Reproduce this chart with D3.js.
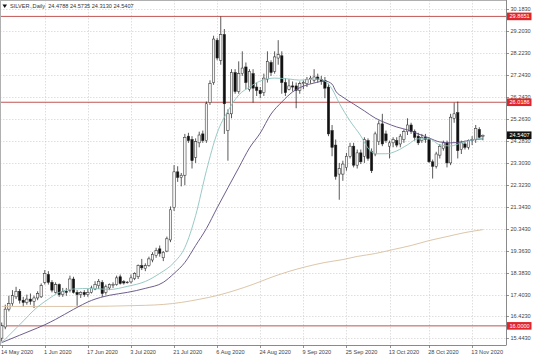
<!DOCTYPE html>
<html>
<head>
<meta charset="utf-8">
<script src="https://cdn.jsdelivr.net/npm/d3@7"></script>
<style>
  html, body { margin: 0; padding: 0; background: #fff; }
  svg { display: block; }
  text { font-family: "Liberation Sans", Arial, sans-serif; }
</style>
</head>
<body>
<div id="chart"></div>
<script>
// ---------------- DATA ----------------
const title = "SILVER.,Daily  24.4788 24.5735 24.3130 24.5407";

const open = [15.45,15.95,16.75,17.00,17.30,17.55,17.15,17.05,17.20,17.10,17.25,17.30,17.95,18.30,17.95,17.50,17.85,17.40,17.55,17.60,
  18.10,17.50,17.40,17.50,17.40,17.50,17.65,17.80,17.95,17.50,17.70,17.80,17.85,18.20,17.98,17.94,17.97,18.12,18.20,18.70,
  18.57,18.70,18.95,19.15,19.45,19.05,19.35,19.85,21.30,22.90,22.65,22.75,24.50,24.35,23.55,24.20,24.60,24.30,26.00,26.90,
  28.80,27.90,29.05,24.75,25.50,27.35,26.50,27.30,27.60,26.60,27.30,26.70,26.55,26.45,27.05,27.80,27.40,28.00,28.10,26.90,
  26.60,26.75,26.75,26.55,26.85,26.85,27.05,27.00,27.15,27.05,27.00,26.70,24.75,24.10,22.80,22.80,23.10,23.60,24.05,23.20,
  23.75,23.60,24.30,23.80,23.70,24.25,25.05,24.60,24.05,24.20,24.30,24.15,24.35,24.70,25.00,24.70,24.50,24.30,24.45,24.35,
  23.35,23.15,23.65,23.95,24.20,23.30,25.30,25.55,23.90,24.15,24.00,24.30,24.35,24.80,24.4788];
const high = [16.15,16.95,17.35,17.60,17.75,17.65,17.30,17.40,17.45,17.35,17.55,17.90,18.50,18.45,18.05,17.95,17.90,17.70,17.70,18.25,
  18.20,17.60,17.55,17.60,17.65,17.80,18.00,18.10,18.05,17.85,17.90,17.95,18.25,18.30,18.05,18.00,18.30,18.40,18.75,19.00,
  18.80,19.10,19.30,19.50,19.60,19.35,20.00,21.35,23.20,23.15,22.85,24.60,24.65,24.50,24.40,24.70,24.75,26.05,27.00,29.00,
  28.90,29.86,29.30,25.70,27.50,27.50,27.85,28.30,27.80,27.50,27.50,26.90,26.70,27.30,28.30,27.90,28.30,28.80,28.30,27.10,
  27.05,26.95,26.90,26.95,27.00,27.15,27.20,27.50,27.30,27.20,27.15,26.85,25.00,24.35,23.30,23.40,23.75,24.20,24.20,23.90,
  23.90,24.45,24.40,23.95,24.70,25.20,25.50,24.75,24.30,24.45,24.45,24.60,24.80,25.30,25.10,24.80,24.65,24.60,24.60,24.45,
  23.45,23.80,24.15,24.30,24.30,25.50,26.00,26.05,24.30,24.30,24.35,24.50,25.00,24.90,24.5735];
const low = [15.30,15.85,16.65,16.90,17.20,17.00,16.85,16.95,16.95,16.80,17.15,17.25,17.85,17.85,17.50,17.45,17.30,17.30,17.35,17.50,
  17.45,16.90,17.25,17.30,17.30,17.45,17.60,17.65,17.30,17.40,17.60,17.70,17.80,17.85,17.85,17.90,17.90,18.05,18.10,18.50,
  18.45,18.65,18.85,19.05,19.10,18.90,19.30,19.75,21.15,22.45,22.25,22.30,24.20,23.05,23.30,24.00,24.20,24.20,25.90,26.80,
  27.90,27.70,24.60,23.40,25.30,26.40,26.40,27.20,26.60,26.50,26.00,26.30,26.20,26.30,26.90,27.20,27.30,27.70,26.40,26.30,
  26.55,26.50,25.75,26.40,26.60,26.70,26.85,26.90,26.90,26.80,26.20,24.50,23.60,22.55,21.65,22.50,22.95,23.50,23.10,23.05,
  23.25,23.30,23.40,22.85,23.60,24.10,24.05,24.20,23.50,24.00,24.00,24.00,24.20,24.55,24.60,24.30,24.10,24.20,24.20,23.30,
  22.60,23.05,23.50,23.85,23.10,23.20,25.10,23.50,23.70,23.90,23.90,24.10,24.20,24.40,24.3130];
const close = [16.00,16.75,17.00,17.35,17.55,17.15,17.05,17.20,17.10,17.25,17.45,17.80,18.35,17.95,17.60,17.85,17.40,17.55,17.50,18.10,
  17.50,17.40,17.50,17.40,17.50,17.70,17.85,18.00,17.45,17.75,17.85,17.85,18.15,17.90,17.92,17.96,18.15,18.35,18.70,18.60,
  18.70,19.00,19.20,19.38,19.25,19.30,19.90,21.20,22.90,22.65,22.75,24.45,24.30,23.40,24.25,24.55,24.30,25.95,26.85,28.85,
  28.00,29.05,25.95,25.50,27.35,26.50,27.30,27.55,26.90,27.40,26.65,26.55,26.40,27.10,27.85,27.35,28.05,28.15,26.90,26.45,
  26.75,26.70,26.55,26.85,26.90,27.05,27.10,27.15,27.05,26.95,26.65,24.60,24.00,22.70,23.05,23.25,23.60,24.05,23.20,23.75,
  23.35,24.35,23.50,22.95,24.60,25.05,24.15,24.30,24.20,24.35,24.10,24.50,24.70,25.00,24.70,24.45,24.20,24.45,24.35,23.35,
  23.15,23.70,24.05,24.20,23.30,25.35,25.50,23.85,24.20,24.00,24.30,24.35,24.85,24.45,24.5407];

// moving averages: [bar index] and [value]
const maFastIdx = [0,5,10,13,16,20,25,30,35,40,44,48,51,54,57,60,63,66,69,72,76,80,83,88,90,92,94,97,100,102,104,107,110,113,116,119,122,125,128,131,134];
const maFastVal = [15.25,16.05,16.85,17.20,17.50,17.65,17.68,17.63,17.77,17.99,18.35,18.84,19.51,20.94,22.95,24.64,25.63,26.34,26.70,26.97,27.10,27.06,27.01,27.06,26.97,26.61,25.98,25.18,24.51,23.97,23.71,23.71,23.84,24.11,24.38,24.38,24.11,24.06,24.20,24.33,24.42];
const maSlowIdx = [0,5,10,12,15,20,25,30,35,40,45,48,51,54,57,60,63,66,69,72,75,78,81,84,87,90,92,93,95,98,101,104,107,110,113,116,119,122,125,128,131,134];
const maSlowVal = [15.25,15.58,15.91,16.05,16.29,16.74,17.14,17.37,17.50,17.68,17.95,18.35,18.84,19.60,20.36,21.29,22.19,23.08,23.97,24.64,25.49,26.03,26.48,26.74,26.88,26.97,26.83,26.52,26.25,25.94,25.63,25.31,25.09,24.91,24.78,24.60,24.42,24.24,24.20,24.24,24.33,24.38];
const ma200Idx = [0,20,40,45,50,55,60,65,70,75,80,85,90,95,99,104,109,114,119,124,129,134];
const ma200Val = [16.87,16.87,16.92,16.96,17.05,17.19,17.36,17.59,17.86,18.17,18.44,18.66,18.84,18.97,19.11,19.24,19.42,19.60,19.82,20.00,20.18,20.31];

// horizontal levels and current price
const levels = [29.8651, 26.0186, 16.0000];
const lastPrice = 24.5407;

// axis ticks
const yTicks = [30.1830,29.2030,28.2230,27.2430,26.2430,25.2630,24.2830,23.3030,22.3230,21.3430,20.3430,19.3630,18.3830,17.4030,16.4230,15.4430];
const xLabelIdx = [0,12,24,36,48,60,72,84,96,108,119,131];
const xLabels = ["14 May 2020","1 Jun 2020","17 Jun 2020","3 Jul 2020","21 Jul 2020","6 Aug 2020","24 Aug 2020","9 Sep 2020","25 Sep 2020","13 Oct 2020","28 Oct 2020","13 Nov 2020"];

// ---------------- DRAW ----------------
const W = 536, H = 357;
const plotR = 506, plotB = 345;
const svg = d3.select("#chart").append("svg").attr("width", W).attr("height", H);

const x = d3.scaleLinear().domain([0, 134]).range([1.7, 482.9]);
const y = d3.scaleLinear().domain([15.443, 30.183]).range([338.3, 9.3]);

svg.append("defs").append("clipPath").attr("id", "plot")
  .append("rect").attr("x", 0).attr("y", 0).attr("width", plotR).attr("height", plotB);

// grid
const grid = svg.append("g").attr("stroke", "#c9c9c9").attr("stroke-width", 0.6).attr("stroke-dasharray", "1.5,1.5");
grid.selectAll("line.h").data(yTicks).join("line")
  .attr("x1", 0).attr("x2", plotR)
  .attr("y1", d => Math.round(y(d)) + 0.5).attr("y2", d => Math.round(y(d)) + 0.5);
grid.selectAll("line.v").data(xLabelIdx.slice(1)).join("line")
  .attr("y1", 0).attr("y2", plotB)
  .attr("x1", d => Math.round(x(d)) + 0.5).attr("x2", d => Math.round(x(d)) + 0.5);

const plot = svg.append("g").attr("clip-path", "url(#plot)");

// levels
plot.selectAll("line.lvl").data(levels).join("line")
  .attr("x1", 0).attr("x2", plotR)
  .attr("y1", d => y(d)).attr("y2", d => y(d))
  .attr("stroke", "#b8423f").attr("stroke-width", 0.9);

// moving averages
const line = d3.line().x(d => x(d[0])).y(d => y(d[1])).curve(d3.curveMonotoneX);
function drawMA(idx, val, color, w) {
  plot.append("path").datum(idx.map((d, i) => [d, val[i]]))
    .attr("d", line).attr("fill", "none").attr("stroke", color).attr("stroke-width", w);
}

// candles
const bw = 2.4;
const candles = plot.append("g");
open.forEach((o, i) => {
  const c = close[i], hi = high[i], lo = low[i];
  const cx = x(i);
  candles.append("line")
    .attr("x1", cx).attr("x2", cx).attr("y1", y(hi)).attr("y2", y(lo))
    .attr("stroke", "#111").attr("stroke-width", 0.7);
  const top = y(Math.max(o, c)), bot = y(Math.min(o, c));
  candles.append("rect")
    .attr("x", cx - bw / 2).attr("width", bw)
    .attr("y", top).attr("height", Math.max(0.7, bot - top))
    .attr("fill", c >= o ? "#f4f4f4" : "#111")
    .attr("stroke", "#222").attr("stroke-width", 0.5);
});

drawMA(ma200Idx, ma200Val, "#d8bf9f", 0.9);
drawMA(maSlowIdx, maSlowVal, "#5e4c80", 0.9);
drawMA(maFastIdx, maFastVal, "#8cc3bd", 0.9);

// axes lines
svg.append("line").attr("x1", plotR + 0.5).attr("x2", plotR + 0.5).attr("y1", 0).attr("y2", plotB)
  .attr("stroke", "#8a8a8a").attr("stroke-width", 1);
svg.append("line").attr("x1", 0).attr("x2", plotR + 0.5).attr("y1", plotB + 0.5).attr("y2", plotB + 0.5)
  .attr("stroke", "#8a8a8a").attr("stroke-width", 1);
svg.append("line").attr("x1", 0.5).attr("x2", 0.5).attr("y1", 0).attr("y2", plotB)
  .attr("stroke", "#b0b0b0").attr("stroke-width", 1);
svg.append("line").attr("x1", 0).attr("x2", plotR).attr("y1", 0.5).attr("y2", 0.5)
  .attr("stroke", "#b0b0b0").attr("stroke-width", 1);

// y axis ticks + labels
const yAx = svg.append("g");
yAx.selectAll("line").data(yTicks).join("line")
  .attr("x1", plotR).attr("x2", plotR + 3)
  .attr("y1", d => Math.round(y(d)) + 0.5).attr("y2", d => Math.round(y(d)) + 0.5)
  .attr("stroke", "#777").attr("stroke-width", 0.8);
yAx.selectAll("text").data(yTicks).join("text")
  .attr("x", 510.5).attr("y", d => y(d)).attr("dy", "0.35em")
  .attr("font-size", 5.6).attr("fill", "#444")
  .text(d => d.toFixed(4));

// x axis ticks + labels
const xAx = svg.append("g");
xAx.selectAll("line").data(xLabelIdx).join("line")
  .attr("x1", d => Math.round(x(d)) + 0.5).attr("x2", d => Math.round(x(d)) + 0.5)
  .attr("y1", plotB).attr("y2", plotB + 3)
  .attr("stroke", "#777").attr("stroke-width", 0.8);
xAx.selectAll("text").data(xLabelIdx).join("text")
  .attr("x", d => x(d) - 0.8).attr("y", 353.5)
  .attr("font-size", 5.6).attr("fill", "#444")
  .text((d, i) => xLabels[i]);

// level labels
const tag = (v, bg) => {
  const g = svg.append("g");
  g.append("rect").attr("x", plotR + 1).attr("y", y(v) - 3.8).attr("width", 24.5).attr("height", 7.6).attr("fill", bg);
  g.append("text").attr("x", plotR + 3.5).attr("y", y(v)).attr("dy", "0.35em")
    .attr("font-size", 5.6).attr("fill", "#fff").text(v.toFixed(4));
};
levels.forEach(v => tag(v, "#e0262a"));
tag(lastPrice, "#111");

// header
svg.append("path").attr("d", "M2.5,4.5 L7,4.5 L4.75,8 Z").attr("fill", "#111");
svg.append("text").attr("x", 10).attr("y", 8.3).attr("font-size", 5.6).attr("fill", "#333")
  .attr("xml:space", "preserve").style("white-space", "pre").text(title);
</script>
</body>
</html>
